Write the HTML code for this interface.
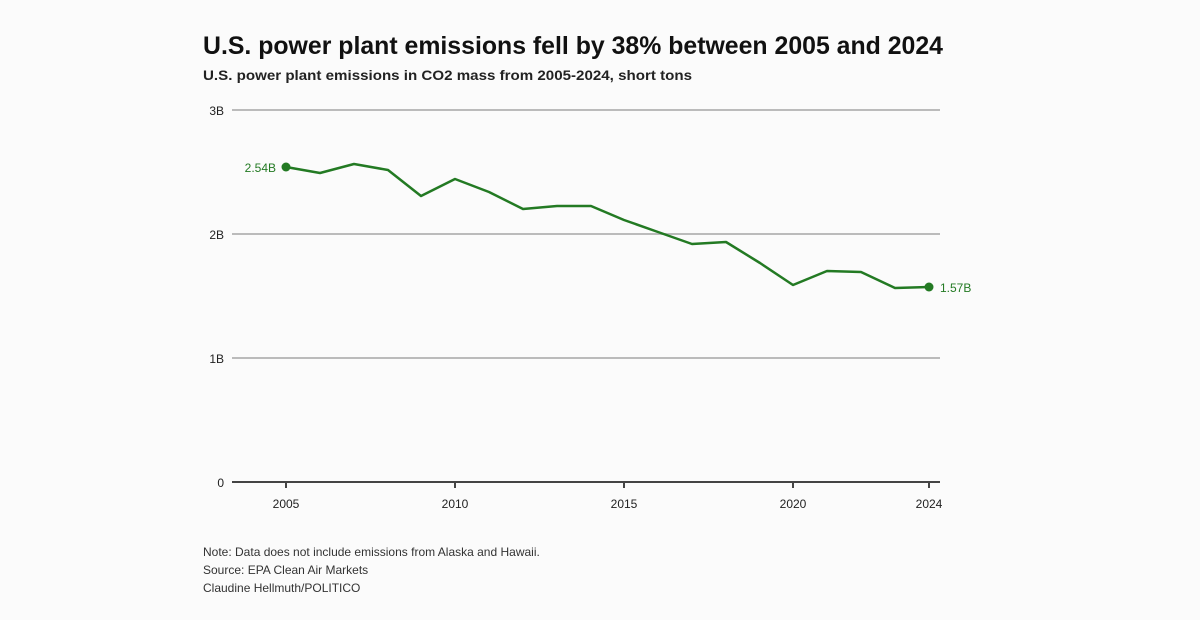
<!DOCTYPE html>
<html><head><meta charset="utf-8"><style>
html,body{margin:0;padding:0;background:#fbfbfb;}
svg{display:block;font-family:"Liberation Sans",sans-serif;}
</style></head><body>
<svg width="1200" height="620" viewBox="0 0 1200 620">
<rect width="1200" height="620" fill="#fbfbfb"/>
<text x="203" y="54" font-size="25" font-weight="bold" fill="#111" textLength="740" lengthAdjust="spacingAndGlyphs">U.S. power plant emissions fell by 38% between 2005 and 2024</text>
<text x="203" y="80" font-size="14" font-weight="bold" fill="#222" textLength="489" lengthAdjust="spacingAndGlyphs">U.S. power plant emissions in CO2 mass from 2005-2024, short tons</text>
<g stroke="#bbb" stroke-width="2">
<line x1="232" y1="110" x2="940" y2="110"/>
<line x1="232" y1="234" x2="940" y2="234"/>
<line x1="232" y1="358" x2="940" y2="358"/>
</g>
<line x1="232" y1="482" x2="940" y2="482" stroke="#444" stroke-width="2"/>
<g stroke="#444" stroke-width="2">
<line x1="286" y1="482" x2="286" y2="488"/><line x1="455" y1="482" x2="455" y2="488"/>
<line x1="624" y1="482" x2="624" y2="488"/><line x1="793" y1="482" x2="793" y2="488"/>
<line x1="929" y1="482" x2="929" y2="488"/>
</g>
<g font-size="12" fill="#222" text-anchor="end">
<text x="224" y="115">3B</text><text x="224" y="239">2B</text><text x="224" y="363">1B</text><text x="224" y="487">0</text>
</g>
<g font-size="12" fill="#222" text-anchor="middle">
<text x="286" y="508">2005</text><text x="455" y="508">2010</text><text x="624" y="508">2015</text><text x="793" y="508">2020</text><text x="929" y="508">2024</text>
</g>
<polyline fill="none" stroke="#237a23" stroke-width="2.5" stroke-linejoin="round" points="286,167 320,173 354,164 388,170 421,196 455,179 489,192 523,209 557,206 591,206 624,220 658,232 692,244 726,242 760,263 793,285 827,271 861,272 895,288 929,287"/>
<circle cx="286" cy="167" r="4.5" fill="#237a23"/>
<circle cx="929" cy="287" r="4.5" fill="#237a23"/>
<text x="276" y="172" font-size="12" fill="#237a23" text-anchor="end">2.54B</text>
<text x="940" y="292" font-size="12" fill="#237a23">1.57B</text>
<g font-size="12" fill="#333">
<text x="203" y="556">Note: Data does not include emissions from Alaska and Hawaii.</text>
<text x="203" y="574">Source: EPA Clean Air Markets</text>
<text x="203" y="592">Claudine Hellmuth/POLITICO</text>
</g>
</svg>
</body></html>
